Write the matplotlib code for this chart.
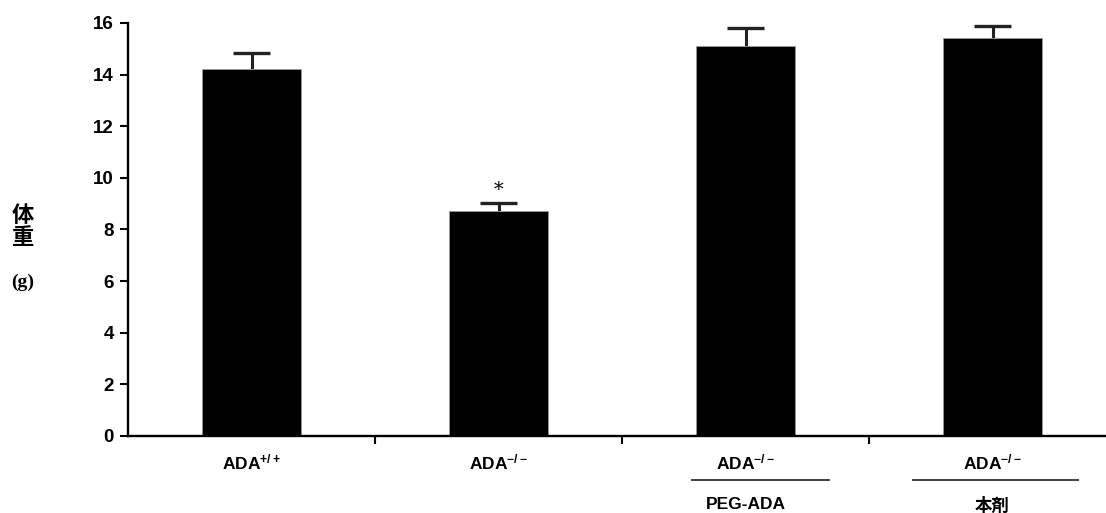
import matplotlib
matplotlib.use("Agg")
import matplotlib.pyplot as plt
from matplotlib.lines import Line2D
import matplotlib.transforms as mtransforms

plt.rcParams['font.family'] = ['Liberation Sans', 'Noto Sans CJK JP', 'DejaVu Sans']
plt.rcParams['mathtext.fontset'] = 'custom'
plt.rcParams['mathtext.rm'] = 'Liberation Sans:bold'
plt.rcParams['mathtext.bf'] = 'Liberation Sans:bold'
plt.rcParams['mathtext.it'] = 'Liberation Sans:bold'

# data
groups = ["ADA$^{+/+}$", "ADA$^{-/-}$", "ADA$^{-/-}$", "ADA$^{-/-}$"]
treatments = ["", "", "PEG-ADA", "本剤"]
means = [14.2, 8.7, 15.1, 15.4]
errors = [0.65, 0.32, 0.70, 0.50]
sig_marks = ["", "*", "", ""]
yticks = [0, 2, 4, 6, 8, 10, 12, 14, 16]

fig = plt.figure(figsize=(11.06, 5.13), dpi=100)
ax = fig.add_axes([128/1106, 77/513, (1116-128)/1106, 413/513])

x = list(range(len(means)))
tops = [m + e for m, e in zip(means, errors)]
ax.vlines(x, means, tops, colors='#222222', linewidth=2.2, zorder=1)
ax.hlines(tops, [i - 0.075 for i in x], [i + 0.075 for i in x], colors='#222222',
          linewidth=2.4, zorder=1)
ax.bar(x, means, width=0.40, color='black', edgecolor='#999999', linewidth=0.6, zorder=2)

ax.set_xlim(-0.5, 3.5)
ax.set_ylim(0, 16)
ax.set_yticks(yticks)
ax.set_yticklabels([str(v) for v in yticks], fontsize=13.5, fontweight='bold')
for s in ['top', 'right']:
    ax.spines[s].set_visible(False)
for s in ['left', 'bottom']:
    ax.spines[s].set_linewidth(1.7)
ax.tick_params(axis='y', direction='out', length=6, width=1.5, pad=4)
ax.set_xticks([0.5, 1.5, 2.5])
ax.set_xticklabels([])
ax.tick_params(axis='x', direction='out', length=6, width=1.5)

trans = mtransforms.blended_transform_factory(ax.transData, ax.transAxes)
for i, g in enumerate(groups):
    ax.text(i, -0.065, g, transform=trans, ha='center', va='center', fontsize=12.5,
            fontweight='bold', clip_on=False)
    if treatments[i]:
        ax.text(i, -0.167, treatments[i], transform=trans, ha='center', va='center',
                fontsize=12.5, fontweight='bold', clip_on=False)
    if sig_marks[i]:
        ax.text(i, means[i] + errors[i] + 0.5, sig_marks[i], ha='center', va='center',
                fontsize=14, family='DejaVu Serif')

line_spans = {2: (-0.215, 0.34), 3: (-0.32, 0.345)}
for i, (a, b) in line_spans.items():
    ax.add_line(Line2D([i + a, i + b], [-0.107, -0.107], transform=trans, color='#333333',
                       linewidth=1.3, clip_on=False))

fig.text(23/1106, 1 - 216/513, "体", ha='center', va='center', fontsize=16,
         fontweight='bold', family=['Noto Sans CJK JP'])
fig.text(23/1106, 1 - 238/513, "重", ha='center', va='center', fontsize=16,
         fontweight='bold', family=['Noto Sans CJK JP'])
fig.text(23/1106, 1 - 282/513, "(g)", ha='center', va='center', fontsize=14,
         fontweight='bold', family=['Liberation Serif'])

fig.savefig("out.png", dpi=100)
